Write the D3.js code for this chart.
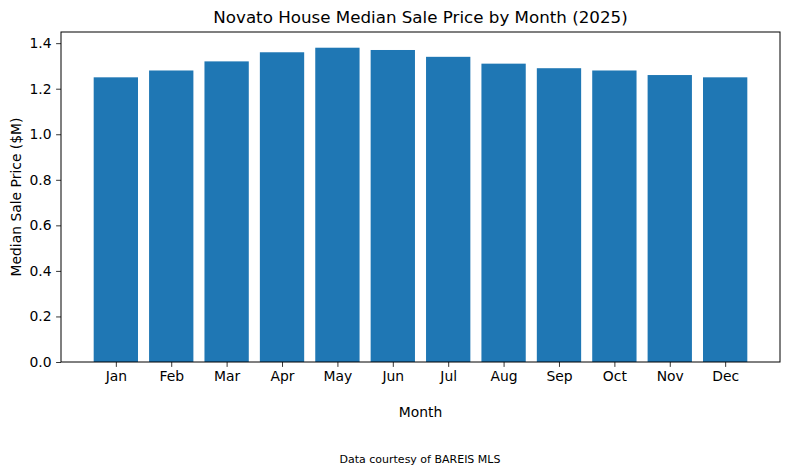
<!DOCTYPE html>
<html>
<head>
<meta charset="utf-8">
<script src="https://cdn.jsdelivr.net/npm/d3@7"></script>
<style>
  body { margin: 0; background: #fff; }
  svg { font-family: "DejaVu Sans", sans-serif; }
</style>
</head>
<body>
<svg width="790" height="474"></svg>
<script>
var months = ["Jan", "Feb", "Mar", "Apr", "May", "Jun", "Jul", "Aug", "Sep", "Oct", "Nov", "Dec"];
var prices = [1.25, 1.28, 1.32, 1.36, 1.38, 1.37, 1.34, 1.31, 1.29, 1.28, 1.26, 1.25];
var yTicks = [0.0, 0.2, 0.4, 0.6, 0.8, 1.0, 1.2, 1.4];

var svg = d3.select("svg"),
    pLeft = 61, pRight = 780, pTop = 32, pBottom = 362;

// matplotlib style limits: bars of width 0.8, 5% margins
var span = (months.length - 1) + 0.8,
    pad = 0.05 * span;
var x = d3.scaleLinear()
    .domain([-0.4 - pad, months.length - 1 + 0.4 + pad])
    .range([pLeft, pRight]);

var y = d3.scaleLinear()
    .domain([0, d3.max(prices) * 1.05])
    .range([pBottom, pTop]);

svg.append("g")
  .selectAll("rect")
  .data(prices)
  .enter().append("rect")
    .attr("x", function(d, i) { return x(i - 0.4); })
    .attr("width", function(d, i) { return x(i + 0.4) - x(i - 0.4); })
    .attr("y", function(d) { return y(d); })
    .attr("height", function(d) { return y(0) - y(d); })
    .attr("fill", "#1f77b4");

// axes
var xAxis = svg.append("g")
    .attr("transform", "translate(0," + pBottom + ")")
    .call(d3.axisBottom(x)
      .tickValues(d3.range(months.length))
      .tickFormat(function(i) { return months[i]; })
      .tickSize(4.9).tickPadding(4.5).tickSizeOuter(0));

var yAxis = svg.append("g")
    .attr("transform", "translate(" + pLeft + ",0)")
    .call(d3.axisLeft(y)
      .tickValues(yTicks)
      .tickFormat(d3.format(".1f"))
      .tickSize(4.9).tickPadding(4.5).tickSizeOuter(0));

[xAxis, yAxis].forEach(function(a) {
  a.select(".domain").remove();
  a.selectAll("line").attr("stroke", "#000").attr("stroke-width", 0.8);
  a.selectAll("text").attr("fill", "#000").style("font-size", "13.9px")
    .style("font-family", "DejaVu Sans, sans-serif");
});

// frame
svg.append("rect")
    .attr("x", pLeft).attr("y", pTop)
    .attr("width", pRight - pLeft).attr("height", pBottom - pTop)
    .attr("fill", "none").attr("stroke", "#000").attr("stroke-width", 1);

svg.append("text")
    .attr("x", (pLeft + pRight) / 2).attr("y", 23)
    .attr("text-anchor", "middle")
    .style("font-size", "16.7px")
    .text("Novato House Median Sale Price by Month (2025)");

svg.append("text")
    .attr("x", (pLeft + pRight) / 2).attr("y", 417)
    .attr("text-anchor", "middle")
    .style("font-size", "13.9px")
    .text("Month");

svg.append("text")
    .attr("transform", "translate(21," + (pTop + pBottom) / 2 + ")rotate(-90)")
    .attr("text-anchor", "middle")
    .style("font-size", "13.9px")
    .text("Median Sale Price ($M)");

svg.append("text")
    .attr("x", 420).attr("y", 463)
    .attr("text-anchor", "middle")
    .style("font-size", "11px")
    .text("Data courtesy of BAREIS MLS");
</script>
</body>
</html>
